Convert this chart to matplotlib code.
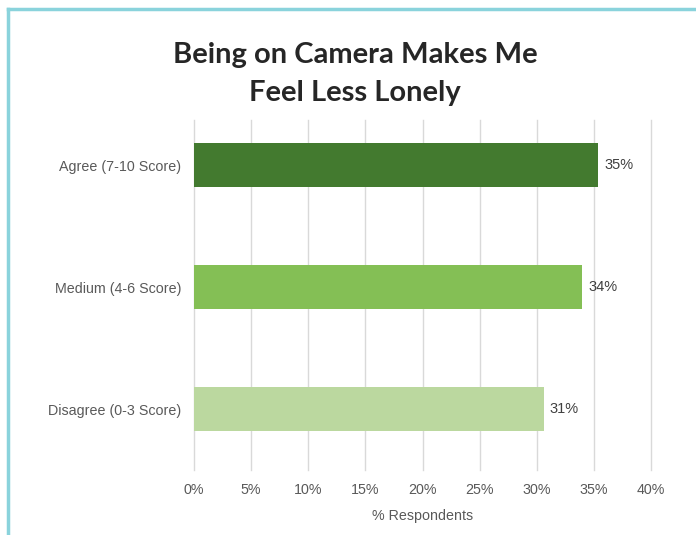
import matplotlib.pyplot as plt

categories = ["Disagree (0-3 Score)", "Medium (4-6 Score)", "Agree (7-10 Score)"]
values = [30.6, 34.0, 35.4]
labels = ["31%", "34%", "35%"]
colors = ["#BBD89F", "#84BF55", "#437A2F"]
ticks = [0, 5, 10, 15, 20, 25, 30, 35, 40]

W, H = 696, 535
fig = plt.figure(figsize=(W / 100, H / 100), dpi=100)
fig.patch.set_facecolor("white")

# teal frame (left and top only visible)
fig.add_artist(plt.Line2D([8 / W, 8 / W], [0, 1 - 9 / H], color="#8AD3DC", lw=2.5))
fig.add_artist(plt.Line2D([8 / W, 1], [1 - 9 / H, 1 - 9 / H], color="#8AD3DC", lw=2.5))

font = "Liberation Sans"
ax = fig.add_axes([194 / W, 1 - 470 / H, (651 - 194) / W, 350 / H])
pos = [0, 1, 2]
ax.barh(pos, values, height=0.36, color=colors, zorder=2)
ax.set_xlim(0, 40)
ax.set_ylim(-0.5, 2.369)
ax.set_xticks(ticks)
ax.set_xticklabels([f"{t}%" for t in ticks], fontsize=10.3, color="#595959", family=font)
ax.set_yticks(pos)
ax.set_yticklabels(categories, fontsize=10.3, color="#595959", family=font)
ax.tick_params(length=0, axis="x", pad=9)
ax.tick_params(length=0, axis="y", pad=9)
ax.grid(axis="x", color="#D9D9D9", lw=1, zorder=0)
for gl in ax.get_xgridlines():
    gl.set_clip_on(False)
for s in ax.spines.values():
    s.set_visible(False)

for p, v, l in zip(pos, values, labels):
    ax.text(v + 0.5, p, l, va="center", ha="left", fontsize=10.5, color="#404040", family=font)

ax.set_xlabel("% Respondents", fontsize=10.3, color="#595959", family=font, labelpad=9)

fig.text(355 / W, 1 - 74 / H, "Being on Camera Makes Me\nFeel Less Lonely", ha="center", va="center",
         fontsize=21, fontweight="bold", color="#262626", family="Lato", linespacing=1.55)

fig.savefig("out.png", dpi=100)
